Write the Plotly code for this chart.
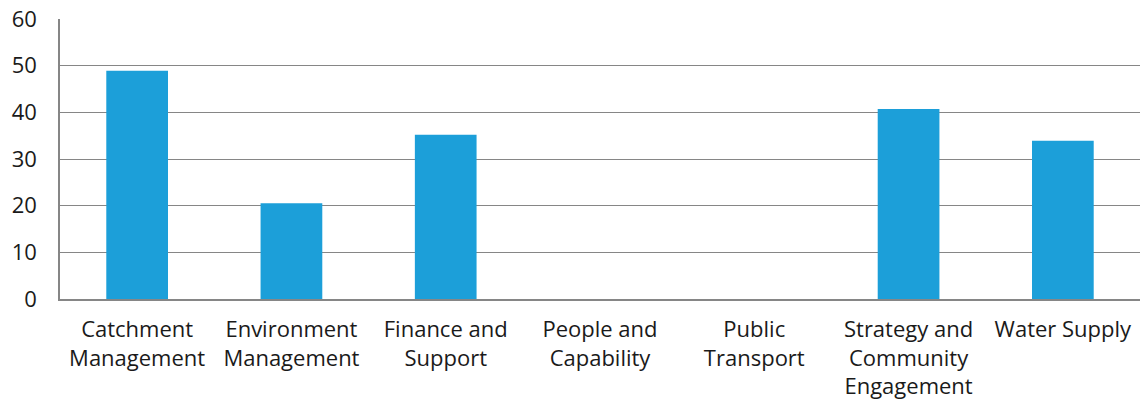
import plotly.graph_objects as go

categories = ["Catchment<br>Management", "Environment<br>Management", "Finance and<br>Support",
              "People and<br>Capability", "Public<br>Transport", "Strategy and<br>Community<br>Engagement",
              "Water Supply"]
values = [48.9, 20.5, 35.2, 0, 0, 40.7, 33.9]
y_ticks = [0, 10, 20, 30, 40, 50, 60]

font_family = "Open Sans"

fig = go.Figure(go.Bar(x=categories, y=values, marker=dict(color="#1C9FD9", line=dict(width=0)),
                       width=0.4))
fig.update_layout(
    width=1143, height=418,
    margin=dict(l=60, r=3, t=19, b=119),
    paper_bgcolor="white", plot_bgcolor="white",
    font=dict(family=font_family, size=22, color="#1a1a1a"),
    showlegend=False,
    bargap=0.6,
)
fig.update_xaxes(showline=True, linecolor="#868686", linewidth=1.5, showgrid=False,
                 ticks="outside", ticklen=10, tickcolor="rgba(0,0,0,0)", tickangle=0,
                 tickfont=dict(size=22))
fig.update_yaxes(range=[0, 60], tickvals=y_ticks, showgrid=True, gridcolor="#868686", gridwidth=1,
                 showline=True, linecolor="#868686", linewidth=1.5, zeroline=False,
                 ticks="", ticklabelstandoff=17, tickfont=dict(size=22))
fig.write_html("out.html")
